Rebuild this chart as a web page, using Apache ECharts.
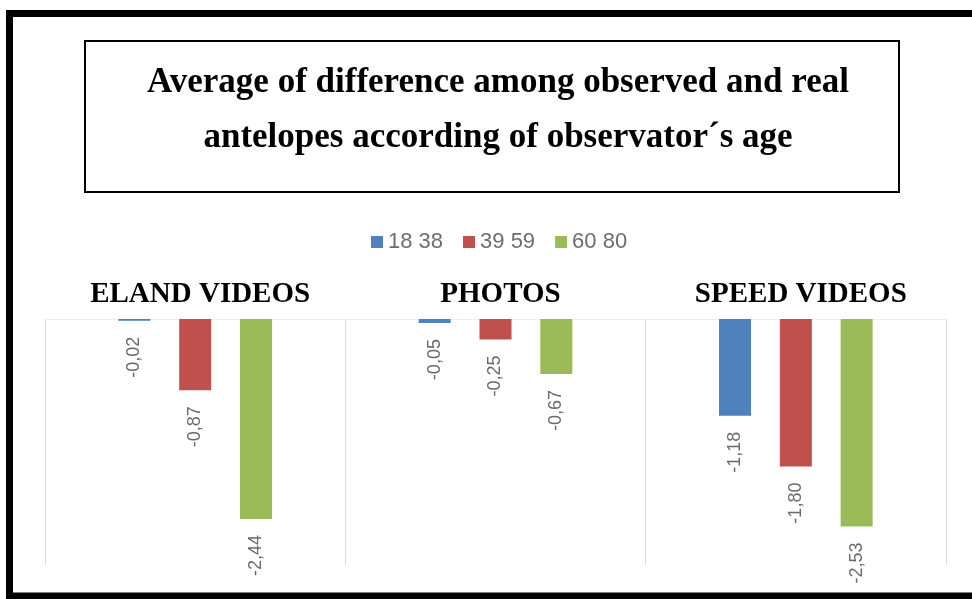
<!DOCTYPE html>
<html>
<head>
<meta charset="utf-8">
<script src="https://cdn.jsdelivr.net/npm/echarts@6/dist/echarts.min.js"></script>
<style>
  html, body { margin: 0; padding: 0; background: #ffffff; }
  #chart { width: 972px; height: 599px; }
</style>
</head>
<body>
<div id="chart"></div>
<script>
// Categories and per-age-group averages
const categories = ['ELAND VIDEOS', 'PHOTOS', 'SPEED VIDEOS'];
const ageGroups = ['18 38', '39 59', '60 80'];
const age18to38 = [-0.02, -0.05, -1.18];
const age39to59 = [-0.87, -0.25, -1.80];
const age60to80 = [-2.44, -0.67, -2.53];
const groupColors = ['#4f81bd', '#c0504d', '#9bbb59'];

const chart = echarts.init(document.getElementById('chart'), null, { renderer: 'canvas' });

const valueLabel = {
  show: true,
  position: 'bottom',
  distance: 16,
  rotate: 90,
  align: 'right',
  verticalAlign: 'middle',
  color: '#6a6a6a',
  fontFamily: 'Liberation Sans',
  fontSize: 18,
  formatter: p => p.value.toFixed(2).replace('.', ',')
};

function barSeries(name, values, color) {
  return {
    name: name,
    type: 'bar',
    data: values,
    barWidth: 32,
    barGap: '90%',
    itemStyle: { color: color },
    label: valueLabel
  };
}

chart.setOption({
  backgroundColor: '#ffffff',
  animation: false,
  title: {
    text: 'Average of difference among observed and real\nantelopes according of observator\u00b4s age',
    left: 493,
    top: 50,
    textAlign: 'center',
    textStyle: {
      fontFamily: 'Liberation Serif',
      fontWeight: 'bold',
      fontSize: 35,
      lineHeight: 55,
      color: '#000000'
    }
  },
  legend: {
    data: ageGroups,
    left: 366,
    top: 226,
    itemWidth: 12,
    itemHeight: 12,
    itemGap: 20,
    icon: 'rect',
    textStyle: { color: '#6d6d6d', fontFamily: 'Liberation Sans', fontSize: 22 }
  },
  grid: { left: 45, right: 26, top: 319, bottom: 34 },
  xAxis: {
    type: 'category',
    data: categories,
    position: 'top',
    axisLine: { show: true, lineStyle: { color: '#efefef', width: 1 } },
    axisTick: { show: false },
    axisLabel: {
      margin: 10,
      padding: [0, 0, 0, 10],
      color: '#000000',
      fontFamily: 'Liberation Serif',
      fontWeight: 'bold',
      fontSize: 29
    },
    splitLine: { show: true, lineStyle: { color: '#d9d9d9', width: 1 } }
  },
  yAxis: {
    type: 'value',
    min: -3,
    max: 0,
    interval: 1,
    show: false,
    splitLine: { show: false }
  },
  series: [
    barSeries(ageGroups[0], age18to38, groupColors[0]),
    barSeries(ageGroups[1], age39to59, groupColors[1]),
    barSeries(ageGroups[2], age60to80, groupColors[2])
  ],
  graphic: [
    {
      type: 'rect',
      shape: { x: 9.5, y: 13.5, width: 990, height: 582.5 },
      style: { fill: null, stroke: '#000000', lineWidth: 7 },
      silent: true
    },
    {
      type: 'rect',
      shape: { x: 85, y: 41, width: 814, height: 151 },
      style: { fill: null, stroke: '#000000', lineWidth: 2 },
      silent: true
    }
  ]
});
</script>
</body>
</html>
